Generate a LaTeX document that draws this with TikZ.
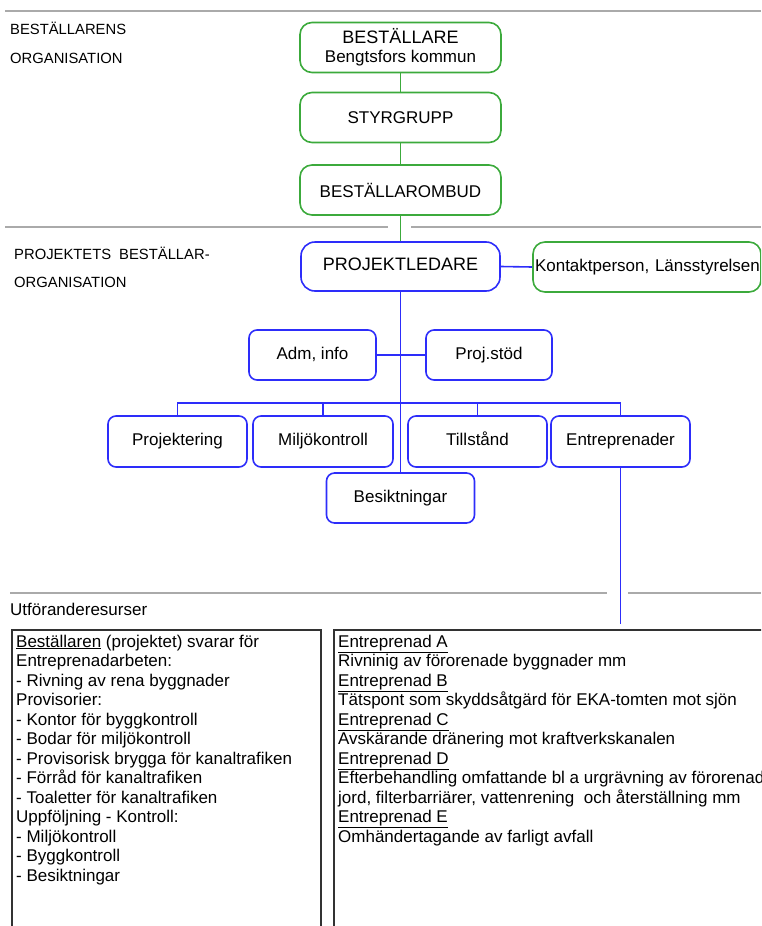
\documentclass[tikz,border=0pt]{standalone}
\usepackage{fontspec}
\setmainfont{Liberation Sans}
\definecolor{grn}{RGB}{60,170,60}
\definecolor{blu}{RGB}{45,45,250}
\definecolor{sepgray}{RGB}{170,170,170}
\definecolor{boxgray}{RGB}{50,50,50}
\begin{document}
\begin{tikzpicture}
    [x=1pt,y=-1pt,
     gbox/.style={draw=grn,line width=1.6pt,rounded corners=12pt,minimum width=201pt,minimum height=50pt,align=center,font=\fontsize{17}{19}\selectfont},
     bbox/.style={draw=blu,line width=1.6pt,rounded corners=8pt,minimum width=139pt,minimum height=51pt,text height=12pt,text depth=3.5pt,font=\fontsize{17}{19}\selectfont},
     glink/.style={grn,line width=1.6pt},
     blink/.style={blu,line width=1.6pt},
     sep/.style={sepgray,line width=1.4pt},
     lbl/.style={anchor=base west,inner sep=0pt,font=\fontsize{14.8}{17}\selectfont},
     txt/.style={anchor=base west,inner sep=0pt,font=\fontsize{17}{19.5}\selectfont}]
    \useasboundingbox (0,0) rectangle (761,926);
    \clip (0,0) rectangle (761,926);
    % separators
    \draw[sep] (5,11) -- (761,11);
    \draw[sep] (5,227) -- (388,227);
    \draw[sep] (411,227) -- (761,227);
    \draw[sep] (10,593) -- (607,593);
    \draw[sep] (628,593) -- (761,593);
    % section labels
    \node[lbl] (sec1a) at (10,34) {BESTÄLLARENS};
    \node[lbl] (sec1b) at (10,63) {ORGANISATION};
    \node[lbl] (sec2a) at (14,259) {PROJEKTETS\hspace{8pt}BESTÄLLAR-};
    \node[lbl] (sec2b) at (14,287) {ORGANISATION};
    \node[txt] (sec3) at (10,615) {Utföranderesurser};
    % beställarens organisation
    \node[gbox] (bestallare) at (400.5,47.5) {{\fontsize{18}{19}\selectfont BESTÄLLARE}\\Bengtsfors kommun};
    \node[gbox] (styrgrupp) at (400.5,117.5) {STYRGRUPP};
    \node[gbox] (ombud) at (400.5,190) {BESTÄLLAROMBUD};
    \node[gbox,minimum width=228pt,text width=224pt,align=left,inner sep=2pt] (kontakt) at (647,267) {\mbox{Kontaktperson, Länsstyrelsen}};
    % projektets beställarorganisation
    \node[bbox,rounded corners=14pt,minimum width=199pt,minimum height=49pt,font=\fontsize{18}{20}\selectfont] (projledare) at (400.5,266.5) {PROJEKTLEDARE};
    \node[bbox,minimum width=127pt,minimum height=50pt] (adm) at (312.5,355) {Adm, info};
    \node[bbox,minimum width=126pt,minimum height=50pt] (projstod) at (489,355) {Proj.stöd};
    \node[bbox] (projektering) at (177.5,441.5) {Projektering};
    \node[bbox,minimum width=140pt] (miljo) at (323,441.5) {Miljökontroll};
    \node[bbox] (tillstand) at (477.5,441.5) {Tillstånd};
    \node[bbox] (entrepr) at (620.5,441.5) {Entreprenader};
    \node[bbox,minimum width=148pt,minimum height=50pt] (besikt) at (400.5,498) {Besiktningar};
    \foreach \from/\to in {bestallare/styrgrupp,styrgrupp/ombud,ombud/projledare}
        \draw[glink] (\from.south) -- (\to.north);
    \draw[blink] (projledare.east) -- (kontakt.west);
    \draw[blink] (projledare.south) -- (besikt.north);
    \draw[blink] (adm.east) -- (projstod.west);
    \draw[blink] (projektering.north) -- ++(0,-12.5) -| (entrepr.north);
    \foreach \n in {miljo,tillstand}
        \draw[blink] (\n.north) -- ++(0,-12.5);
    \coordinate (resurs) at (620.5,624);
    \draw[blink] (entrepr.south) -- (resurs);
    % utföranderesurser
    \draw[boxgray,line width=1.4pt] (12,630) rectangle (321,940);
    \draw[boxgray,line width=1.4pt] (334,630) rectangle (775,940);
    \foreach \t [count=\i] in {{\underline{Beställaren} (projektet) svarar för},
            {Entreprenadarbeten:},{- Rivning av rena byggnader},{Provisorier:},
            {- Kontor för byggkontroll},{- Bodar för miljökontroll},
            {- Provisorisk brygga för kanaltrafiken},{- Förråd för kanaltrafiken},
            {- Toaletter för kanaltrafiken},{Uppföljning - Kontroll:},
            {- Miljökontroll},{- Byggkontroll},{- Besiktningar}}
        \node[txt] (bl\i) at (16,647+19.5*\i-19.5) {\t};
    \foreach \t [count=\i] in {{\underline{Entreprenad A}},
            {Rivninig av förorenade byggnader mm},{\underline{Entreprenad B}},
            {Tätspont som skyddsåtgärd för EKA-tomten mot sjön},{\underline{Entreprenad C}},
            {Avskärande dränering mot kraftverkskanalen},{\underline{Entreprenad D}},
            {Efterbehandling omfattande bl a urgrävning av förorenad},
            {jord, filterbarriärer, vattenrening\ \ och återställning mm},
            {\underline{Entreprenad E}},{Omhändertagande av farligt avfall}}
        \node[txt] (el\i) at (338,647+19.5*\i-19.5) {\t};
\end{tikzpicture}
\end{document}
